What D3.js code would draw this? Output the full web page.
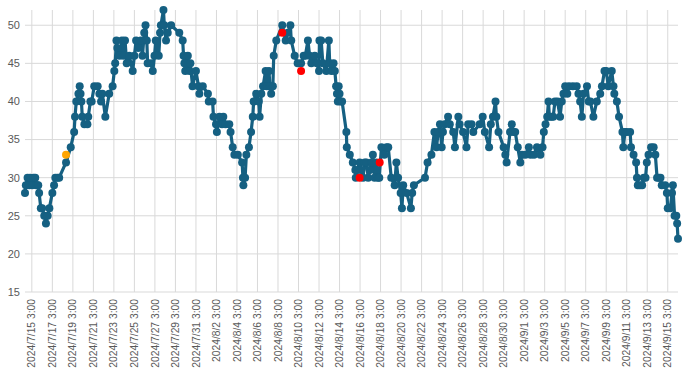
<!DOCTYPE html>
<html lang="en">
  <head>
    <meta charset="UTF-8" />
    <title>Line chart</title>
    <script src="https://d3js.org/d3.v7.min.js"></script>
    <style>
      body {
        margin: 0;
        background: white;
      }
      .grid line {
        stroke: #d9d9d9;
        stroke-width: 1px;
      }
      .tick-label {
        font-family: "Liberation Sans", Arial, sans-serif;
        font-size: 11px;
        fill: #595959;
      }
      .x-label {
        font-size: 10.3px;
      }
    </style>
  </head>
  <body>
    <svg id="chart" width="700" height="378"></svg>
    <script>
      // series start; x values are hours after this moment
      const startTime = "2024/7/15 3:00";

      const hours = [
        -16, -14, -10, -6, -4, 1, 4, 8, 10, 13, 15, 17, 21, 24, 29, 33, 37, 41, 48, 52, 55, 60, 64, 80, 91, 99, 101, 104,
        109, 112, 114, 116, 118, 123, 130, 132, 137, 140, 146, 154, 158, 162, 165, 172, 181, 189, 193, 195,
        198, 200, 205, 211, 214, 218, 222, 228, 236, 240, 244, 249, 255, 259, 263, 266, 269, 271, 279, 283, 287, 290,
        297, 300, 302, 308, 310, 314, 318, 326, 345, 353, 355, 357, 359, 365, 369, 371, 376, 384, 390, 392, 400, 412,
        414, 423, 425, 431, 433, 439, 445, 448, 453, 462, 465, 470, 474, 482, 492, 494, 495, 499, 502, 508, 513, 517,
        519, 525, 531, 533, 537, 541, 547, 550, 555, 557, 560, 564, 566, 572, 586, 594, 599, 605, 607, 615, 622, 630,
        636, 640, 646, 650, 654, 662, 667, 672, 673, 677, 681, 689, 695, 697, 701, 706, 709, 712, 714, 716, 718, 720,
        722, 726, 736, 737, 744, 751, 757, 758, 762, 767, 771, 775, 779, 783, 787, 791, 795, 798, 802, 806, 810, 813,
        818, 825, 830, 834, 841, 849, 853, 857, 863, 866, 869, 877, 887, 890, 894, 920, 926, 935, 942, 947, 951, 955,
        959, 962, 966, 974, 978, 986, 990, 998, 1001, 1009, 1017, 1021, 1029, 1033, 1048, 1055, 1060, 1070, 1074, 1079,
        1085, 1087, 1092, 1104, 1108, 1111, 1119, 1123, 1127, 1131, 1137, 1143, 1147, 1155, 1163, 1167, 1175, 1182,
        1190, 1195, 1198, 1202, 1206, 1209, 1211, 1216, 1220, 1224, 1230, 1236, 1240, 1244, 1248, 1253, 1257, 1266,
        1275, 1279, 1283, 1287, 1291, 1299, 1303, 1307, 1314, 1322, 1330, 1334, 1340, 1344, 1349, 1357, 1361, 1363,
        1369, 1374, 1382, 1384, 1388, 1392, 1400, 1402, 1408, 1414, 1416, 1418, 1423, 1428, 1432, 1436, 1439, 1443,
        1449, 1455, 1459, 1463, 1467, 1471, 1474, 1482, 1486, 1488, 1494, 1498, 1500, 1504, 1508, 1510, 1512
      ];

      const values = [
        28, 29, 30, 29, 30, 29, 30, 30, 29, 29, 29, 28, 26, 26, 25, 24, 25, 26, 28, 29, 30, 30, 30, 32, 34, 36, 38, 40,
        41, 42, 41, 40, 38, 37, 37, 38, 40, 40, 42, 42, 41, 40, 41, 38, 41, 42, 44, 45,
        48, 47, 46, 48, 46, 48, 45, 46, 44, 46, 48, 47, 48, 46, 49, 50, 48, 45, 45, 44, 46, 48,
        46, 49, 50, 52, 50, 48, 49, 50, 49, 48, 46, 45, 44, 46, 44, 45, 42, 44, 42, 41, 42, 41,
        40, 40, 38, 37, 36, 38, 37, 38, 37, 37, 36, 34, 33, 33, 32, 30, 29, 30, 33, 34, 36, 38,
        40, 41, 40, 38, 41, 42, 44, 42, 44, 42, 41, 42, 46, 48, 50, 48, 49, 50, 48, 46, 45, 45,
        46, 46, 48, 46, 45, 46, 45, 44, 48, 48, 45, 44, 48, 45, 44, 45, 44, 42, 41, 40, 42, 41,
        40, 40, 36, 34, 33, 32, 31, 30, 31, 32, 31, 30, 32, 32, 30, 31, 32, 33, 30, 32, 30, 30,
        34, 33, 34, 34, 30, 29, 32, 30, 28, 26, 29, 28, 26, 28, 29, 30, 32, 33, 36, 34, 36, 37,
        34, 36, 37, 38, 37, 36, 34, 38, 37, 36, 34, 37, 37, 36, 37, 38, 36, 34, 37, 38,
        40, 38, 36, 34, 33, 32, 36, 37, 36, 36, 34, 32, 33, 33, 34, 33, 33, 34,
        33, 34, 36, 37, 38, 40, 38, 38, 38, 40, 40, 38, 40, 41, 42, 41, 42, 42,
        42, 41, 40, 38, 41, 42, 40, 40, 38, 40, 41, 42, 44, 44, 42, 44, 42, 41,
        40, 38, 36, 34, 36, 36, 36, 34, 33, 32, 30, 29, 29, 29, 30, 30, 32, 33,
        34, 34, 33, 30, 30, 30, 29, 29, 28, 26, 26, 28, 29, 25, 25, 24, 22
      ];

      // highlighted single points
      const orangeHours = [80];
      const orangeValues = [33];
      const redHours = [586, 630, 767, 814];
      const redValues = [49, 44, 30, 32];

      const tickLabels = [
        "2024/7/15 3:00", "2024/7/17 3:00", "2024/7/19 3:00", "2024/7/21 3:00", "2024/7/23 3:00",
        "2024/7/25 3:00", "2024/7/27 3:00", "2024/7/29 3:00", "2024/7/31 3:00", "2024/8/2 3:00",
        "2024/8/4 3:00", "2024/8/6 3:00", "2024/8/8 3:00", "2024/8/10 3:00", "2024/8/12 3:00",
        "2024/8/14 3:00", "2024/8/16 3:00", "2024/8/18 3:00", "2024/8/20 3:00", "2024/8/22 3:00",
        "2024/8/24 3:00", "2024/8/26 3:00", "2024/8/28 3:00", "2024/8/30 3:00", "2024/9/1 3:00",
        "2024/9/3 3:00", "2024/9/5 3:00", "2024/9/7 3:00", "2024/9/9 3:00", "2024/9/11 3:00",
        "2024/9/13 3:00", "2024/9/15 3:00"
      ];
      const yTicks = [15, 20, 25, 30, 35, 40, 45, 50];

      const parse = d3.timeParse("%Y/%m/%d %H:%M");
      const t0 = parse(startTime);
      const toDate = (h) => d3.timeHour.offset(t0, h);

      const data = hours.map((h, i) => ({ t: toDate(h), v: values[i] }));
      const orange = orangeHours.map((h, i) => ({ t: toDate(h), v: orangeValues[i] }));
      const red = redHours.map((h, i) => ({ t: toDate(h), v: redValues[i] }));

      const margin = { left: 25, right: 22, top: 10, bottom: 86 };
      const width = 700;
      const height = 378;

      const svg = d3.select("#chart");

      const x = d3
        .scaleTime()
        .domain(d3.extent(data, (d) => d.t))
        .range([margin.left, width - margin.right]);

      const y = d3
        .scaleLinear()
        .domain([15, 52])
        .range([height - margin.bottom, margin.top]);

      // vertical gridlines at label positions
      const tickDates = tickLabels.map((s) => parse(s));
      svg
        .append("g")
        .attr("class", "grid")
        .selectAll("line")
        .data(tickDates)
        .join("line")
        .attr("x1", (d) => x(d))
        .attr("x2", (d) => x(d))
        .attr("y1", y(52))
        .attr("y2", y(15));

      // horizontal gridlines
      svg
        .append("g")
        .attr("class", "grid")
        .selectAll("line")
        .data(yTicks)
        .join("line")
        .attr("x1", margin.left)
        .attr("x2", width - margin.right)
        .attr("y1", (d) => y(d))
        .attr("y2", (d) => y(d));

      // y labels
      svg
        .append("g")
        .selectAll("text")
        .data(yTicks)
        .join("text")
        .attr("class", "tick-label")
        .attr("x", margin.left - 5)
        .attr("y", (d) => y(d))
        .attr("dy", "0.35em")
        .attr("text-anchor", "end")
        .text((d) => d);

      // x labels, rotated
      svg
        .append("g")
        .selectAll("text")
        .data(tickLabels)
        .join("text")
        .attr("class", "tick-label x-label")
        .attr("text-anchor", "end")
        .attr("transform", (d) => `translate(${x(parse(d))},${y(15) + 7}) rotate(-90)`)
        .attr("dy", "0.35em")
        .text((d) => d);

      const line = d3
        .line()
        .x((d) => x(d.t))
        .y((d) => y(d.v));

      svg
        .append("path")
        .datum(data)
        .attr("fill", "none")
        .attr("stroke", "#156082")
        .attr("stroke-width", 3.2)
        .attr("stroke-linejoin", "round")
        .attr("d", line);

      svg
        .append("g")
        .selectAll("circle")
        .data(data)
        .join("circle")
        .attr("cx", (d) => x(d.t))
        .attr("cy", (d) => y(d.v))
        .attr("r", 4)
        .attr("fill", "#156082");

      svg
        .append("g")
        .selectAll("circle")
        .data(orange)
        .join("circle")
        .attr("cx", (d) => x(d.t))
        .attr("cy", (d) => y(d.v))
        .attr("r", 4)
        .attr("fill", "#ffa500");

      svg
        .append("g")
        .selectAll("circle")
        .data(red)
        .join("circle")
        .attr("cx", (d) => x(d.t))
        .attr("cy", (d) => y(d.v))
        .attr("r", 4)
        .attr("fill", "#ff0000");
    </script>
  </body>
</html>
